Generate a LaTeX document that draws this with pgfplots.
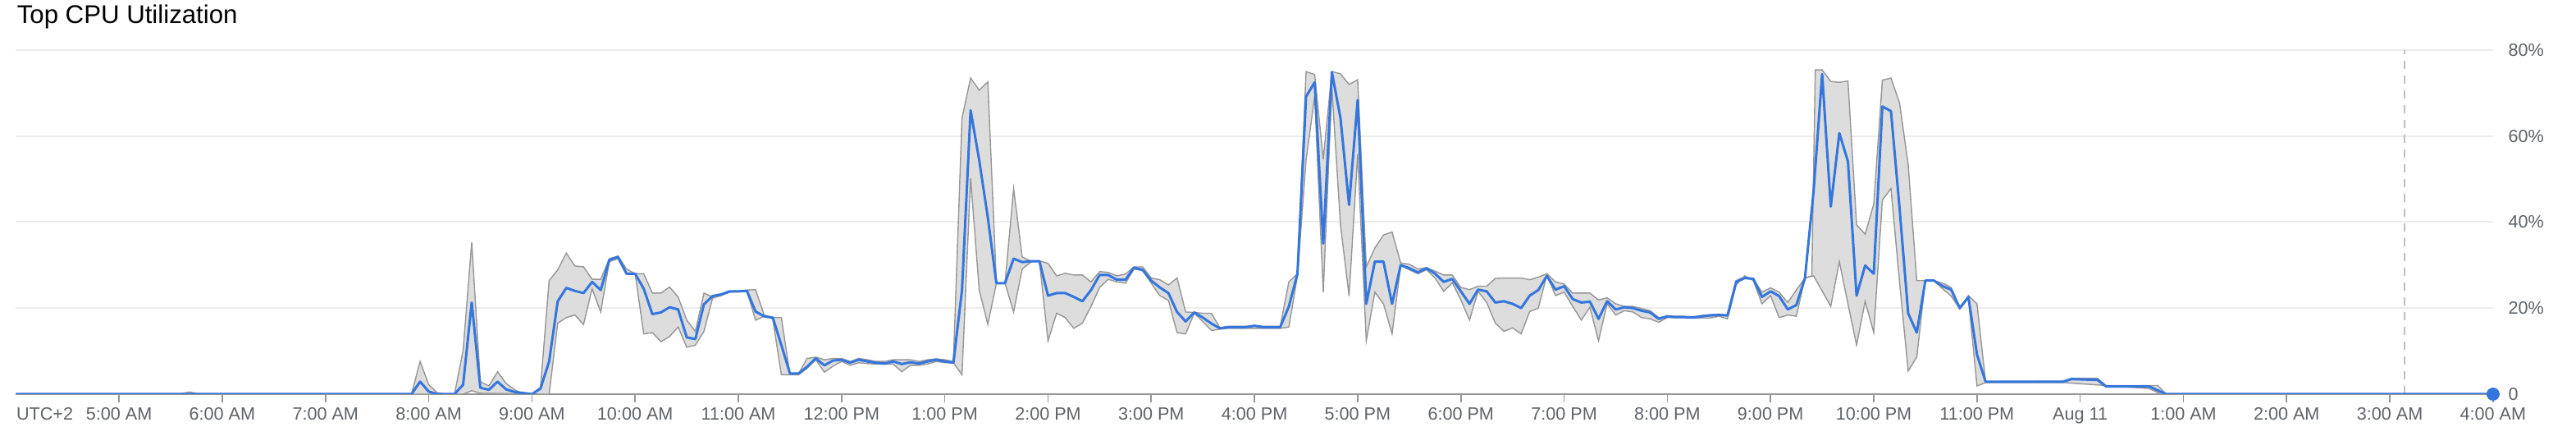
\documentclass[border=0pt]{standalone}
\usepackage{fontspec}
\setmainfont{Liberation Sans}
\usepackage{pgfplots}
\pgfplotsset{compat=1.18}
\usepgfplotslibrary{fillbetween}
\definecolor{meanblue}{RGB}{52,118,221}
\definecolor{bandfill}{RGB}{221,221,221}
\definecolor{bandedge}{RGB}{150,150,150}
\definecolor{gridgray}{RGB}{236,236,236}
\definecolor{axisgray}{RGB}{150,150,150}
\definecolor{labelgray}{RGB}{95,99,104}
\definecolor{dashgray}{RGB}{190,190,190}
\begin{document}
\begin{tikzpicture}
\begin{axis}[
 name=ax,
 at={(4.825pt,10pt)}, anchor=south west,
 scale only axis, width=754.9pt, height=104.75pt,
 xmin=240, xmax=1680, ymin=0, ymax=80,
 set layers,
 axis x line*=bottom, axis y line*=right,
 y axis line style={draw=none},
 x axis line style={draw=axisgray, line width=0.5pt, -},
 xtick={300,360,...,1680},
 xticklabels={5:00 AM,6:00 AM,7:00 AM,8:00 AM,9:00 AM,10:00 AM,11:00 AM,12:00 PM,1:00 PM,2:00 PM,3:00 PM,4:00 PM,5:00 PM,6:00 PM,7:00 PM,8:00 PM,9:00 PM,10:00 PM,11:00 PM,Aug 11,1:00 AM,2:00 AM,3:00 AM,4:00 AM},
 ytick={0,20,40,60,80}, yticklabels={0,20\%,40\%,60\%,80\%},
 ymajorgrids, grid style={draw=gridgray, line width=0.5pt},
 tick align=outside,
 major tick length=2.5pt,
 xtick style={draw=axisgray, line width=0.4pt},
 ytick style={draw=none},
 ticklabel style={font=\fontsize{5.4}{6.2}\selectfont, text=labelgray, inner sep=0pt},
 xticklabel style={anchor=base, yshift=-5.3pt},
 yticklabel style={anchor=west, xshift=2pt},
]
\addplot[draw=bandedge, line width=0.35pt, name path=up] table[x=x,y=y] {
x y
240 0
335 0
341 0.5
347 0
465 0
470 0
475 7.6
480 2.2
485 0.3
490 0
495 0
500 10.2
505 35.3
510 2.9
515 1.9
520 5.2
525 2.5
530 1.0
535 0.1
540 0
545 1.6
550 26.4
555 28.9
560 32.8
565 29.8
570 29.6
575 26.7
580 26.7
585 31.5
590 32.1
595 29.1
600 28.0
605 28.0
610 23.5
615 23.5
620 24.9
625 22.6
630 17.2
635 14.6
640 23.5
645 22.6
650 23.2
655 23.9
660 24.0
665 24.2
670 24.3
675 18.4
680 17.8
685 17.8
690 4.5
695 4.8
700 8.3
705 8.6
710 8.0
715 8.3
720 8.3
725 7.6
730 8.3
735 8.0
740 7.6
745 7.6
750 8.0
755 8.0
760 8.0
765 7.6
770 8.0
775 8.2
780 8.0
785 7.6
790 64.2
795 73.5
800 70.7
805 72.6
810 25.8
815 25.8
820 47.8
825 31.9
830 30.9
835 31.0
840 30.4
845 27.5
850 28.1
855 27.7
860 27.7
865 26.1
870 28.5
875 28.3
880 27.5
885 27.9
890 29.6
895 29.6
900 27.0
905 26.6
910 25.4
915 27.0
920 19.1
925 19.0
930 18.8
935 18.8
940 15.4
945 15.8
975 15.8
980 26.1
985 28.0
990 75.0
995 74.3
1000 54.6
1005 75.0
1010 74.5
1015 72.0
1020 73.1
1025 29.6
1030 34.0
1035 37.0
1040 37.7
1045 30.5
1050 30.2
1055 29.1
1060 29.4
1065 28.6
1070 27.7
1075 27.7
1080 24.8
1085 24.3
1090 25.1
1095 25.1
1100 26.9
1105 27.0
1110 27.0
1115 27.0
1120 26.6
1125 27.2
1130 28.0
1135 26.1
1140 25.6
1145 23.5
1150 23.5
1155 23.5
1160 21.9
1165 22.4
1170 21.0
1175 20.4
1180 20.4
1185 19.9
1190 19.4
1195 17.8
1200 18.1
1205 18.1
1210 18.1
1215 18.0
1220 18.3
1225 18.5
1230 18.6
1235 18.4
1240 26.4
1245 27.3
1250 26.8
1255 23.7
1260 24.7
1265 23.7
1270 21.3
1275 24.2
1280 27.0
1284 27.5
1286 75.4
1290 75.4
1295 72.7
1300 72.5
1305 72.8
1310 39.4
1315 37.2
1320 44.2
1325 73.0
1330 73.5
1335 67.7
1340 53.4
1345 26.4
1350 26.4
1355 26.4
1360 25.8
1365 24.8
1370 20.0
1375 22.9
1380 21.0
1385 2.9
1430 3.0
1435 3.7
1450 3.7
1455 2.0
1485 2.0
1490 0
1680 0
};
\addplot[draw=bandedge, line width=0.35pt, name path=lo] table[x=x,y=y] {
x y
240 0
500 0
505 0.8
510 0.2
545 0
550 0
555 16.5
560 17.8
565 18.4
570 16.2
575 24.5
580 19.1
585 30.8
590 31.5
595 28.0
600 28.0
605 14.0
610 14.3
615 12.2
620 13.4
625 15.6
630 10.9
635 11.4
640 14.6
645 22.3
650 22.9
655 23.7
660 23.9
665 23.9
670 17.2
675 18.1
680 17.5
685 4.5
690 4.5
695 4.5
700 6.0
705 8.0
710 5.1
715 6.5
720 7.6
725 6.7
730 7.3
735 7.1
740 7.0
745 7.0
750 7.0
755 5.2
760 6.7
765 6.7
770 7.0
775 7.6
780 7.3
785 7.3
790 4.5
795 50.2
800 24.2
805 16.2
810 25.8
815 25.8
820 19.1
825 29.1
830 30.7
835 30.9
840 12.4
845 18.8
850 17.8
855 15.3
860 16.5
865 20.4
870 24.8
875 26.7
880 26.1
885 25.8
890 29.1
895 28.7
900 25.8
905 22.9
910 21.8
915 14.3
920 14.0
925 18.8
930 16.9
935 14.8
940 15.1
945 15.3
975 15.3
980 15.6
985 27.5
990 54.4
995 69.2
1000 23.7
1005 71.2
1010 39.4
1015 22.8
1020 55.7
1025 12.4
1030 23.7
1035 21.0
1040 14.0
1045 29.9
1050 28.9
1055 28.0
1060 28.9
1065 27.0
1070 23.9
1075 25.9
1080 21.9
1085 17.2
1090 23.9
1095 21.3
1100 16.5
1105 14.6
1110 15.4
1115 14.0
1120 19.2
1125 20.0
1130 27.7
1135 22.9
1140 23.7
1145 20.4
1150 17.2
1155 20.2
1160 12.4
1165 21.0
1170 18.4
1175 19.4
1180 19.1
1185 17.8
1190 17.5
1195 16.7
1200 17.8
1225 17.7
1230 18.1
1235 17.5
1240 25.4
1245 27.5
1250 26.4
1255 21.0
1260 22.9
1265 17.8
1270 18.4
1275 18.1
1280 27.0
1285 27.5
1290 24.0
1295 20.4
1300 30.8
1305 21.0
1310 11.4
1315 21.6
1320 14.3
1325 45.1
1330 47.8
1335 26.0
1340 5.4
1345 8.6
1350 26.4
1355 26.4
1360 24.5
1365 22.8
1370 19.8
1375 22.3
1380 1.9
1385 2.7
1430 2.7
1480 1.3
1487 0
1680 0
};
\addplot[fill=bandfill, draw=none, on layer=pre main] fill between[of=up and lo];
\addplot[draw=dashgray, line width=0.45pt, dash pattern=on 2.5pt off 2pt] coordinates {(1628.6,0) (1628.6,80)};
\addplot[draw=meanblue, line width=0.75pt, line join=round] table[x=x,y=y] {
x y
240 0
465 0
470 0
475 2.9
480 0.6
485 0
495 0
500 2.2
505 21.3
510 1.5
515 1.0
520 2.9
525 1.1
530 0.5
540 0
545 1.3
550 7.6
555 21.6
560 24.7
565 24.0
570 23.5
575 26.1
580 24.2
585 31.2
590 31.9
595 28.0
600 28.0
605 24.5
610 18.6
615 19.0
620 20.2
625 19.7
630 13.2
635 12.8
640 20.9
645 22.8
650 23.2
655 23.9
660 23.9
665 24.0
670 19.2
675 18.1
680 17.8
685 11.4
690 4.8
695 4.8
700 6.4
705 8.3
710 6.7
715 7.8
720 8.0
725 7.3
730 8.0
735 7.6
740 7.3
745 7.1
750 7.6
755 7.0
760 7.4
765 7.1
770 7.6
775 8.0
780 7.6
785 7.3
790 24.2
795 66.0
800 54.4
805 41.1
810 25.8
815 25.8
820 31.5
825 30.7
830 30.9
835 30.9
840 22.9
845 23.5
850 23.5
855 22.6
860 21.6
865 24.2
870 27.7
875 27.7
880 26.6
885 26.6
890 29.4
895 28.9
900 26.4
905 24.8
910 23.5
915 19.1
920 16.9
925 19.0
930 17.8
935 16.4
940 15.3
945 15.6
950 15.6
955 15.6
960 15.9
965 15.6
970 15.6
975 15.6
980 20.4
985 28.0
990 69.2
995 72.5
1000 35.0
1005 74.9
1010 64.2
1015 44.0
1020 68.4
1025 21.0
1030 30.8
1035 30.8
1040 21.0
1045 30.0
1050 29.3
1055 28.3
1060 29.3
1065 28.0
1070 26.1
1075 26.8
1080 23.9
1085 21.0
1090 24.3
1095 23.9
1100 21.3
1105 21.6
1110 21.0
1115 20.0
1120 22.9
1125 24.2
1130 27.5
1135 24.3
1140 25.1
1145 22.1
1150 21.3
1155 21.5
1160 17.5
1165 21.6
1170 19.7
1175 20.2
1180 20.0
1185 19.4
1190 19.0
1195 17.5
1200 18.1
1205 17.9
1210 17.9
1215 17.8
1220 18.1
1225 18.3
1230 18.4
1235 18.3
1240 26.1
1245 27.0
1250 26.8
1255 22.6
1260 23.9
1265 22.8
1270 19.7
1275 20.7
1280 27.0
1285 47.1
1290 74.4
1295 43.6
1300 60.7
1305 54.1
1310 22.9
1315 29.9
1320 28.0
1325 66.9
1330 65.8
1335 43.2
1340 18.8
1345 14.3
1350 26.4
1355 26.4
1360 25.1
1365 24.3
1370 20.0
1375 22.6
1380 9.2
1385 2.9
1430 2.9
1435 3.5
1450 3.3
1455 1.8
1480 1.8
1490 0
1680 0
};
\end{axis}
\node[anchor=base west, inner sep=0pt, font=\fontsize{5.4}{6.2}\selectfont, text=labelgray] at ([yshift=-7.9pt]ax.south west) {UTC+2};
\fill[meanblue] (ax.south east) circle[radius=2pt];
\node[anchor=base west, inner sep=0, font=\fontsize{7.8}{9.2}\selectfont] at (5pt,122.9pt) {Top CPU Utilization};
\pgfresetboundingbox
\useasboundingbox (0,0) rectangle (785pt,130pt);
\end{tikzpicture}
\end{document}
